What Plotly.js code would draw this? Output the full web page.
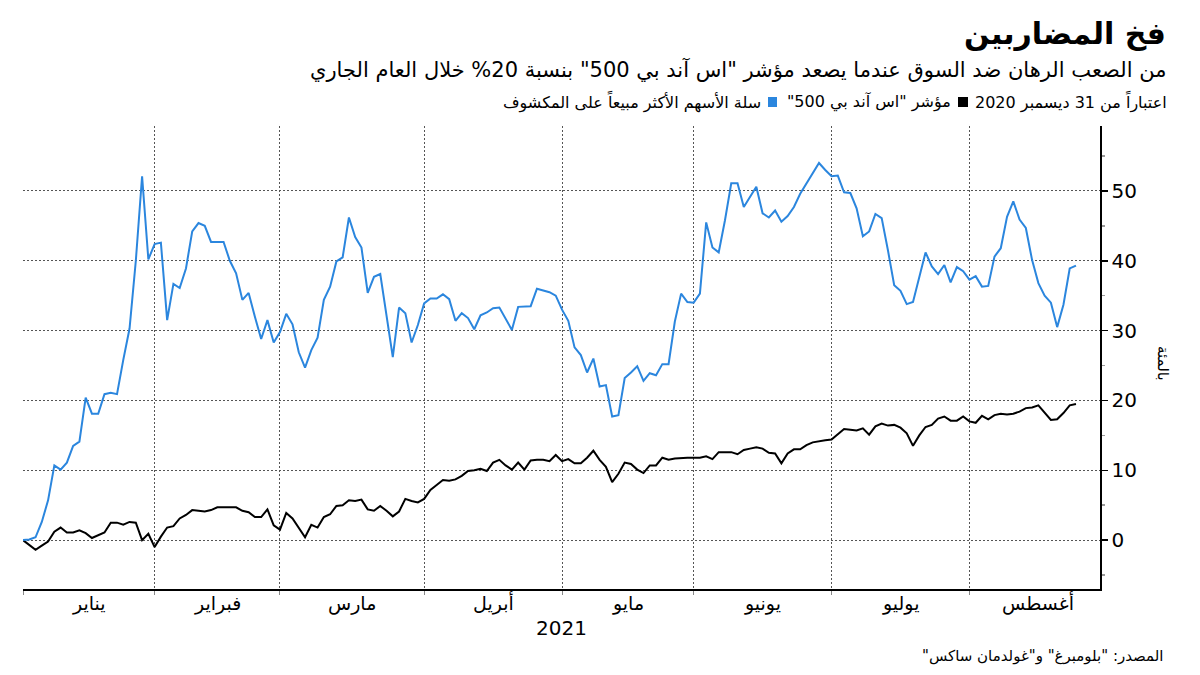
<!DOCTYPE html>
<html>
<head>
<meta charset="utf-8">
<script src="https://cdn.plot.ly/plotly-3.0.1.min.js"></script>
<style>
  body { margin: 0; background: #fff; }
  #chart { width: 1200px; height: 675px; }
</style>
</head>
<body>
<div id="chart"></div>
<script>
// الأداء منذ 31 ديسمبر 2020 بالمئة، نقطة لكل يوم عمل ابتداءً من 1 يناير 2021
const firstDay = '2021-01-01';

const shortBasket = [
    0, 0.1, 0.4, 2.6, 5.7, 10.7, 10.1, 11.1, 13.5, 14.1,
    20.4, 18.1, 18.1, 20.9, 21.1, 20.9, 25.8, 30.3, 40.0, 52.1,
    40.2, 42.4, 42.6, 31.5, 36.7, 36.1, 38.9, 44.2, 45.4, 45.0,
    42.7, 42.7, 42.7, 40.0, 38.2, 34.4, 35.4, 32.0, 28.8, 31.5,
    28.3, 29.8, 32.4, 30.9, 26.9, 24.7, 27.2, 29.0, 34.4, 36.3,
    39.9, 40.5, 46.2, 43.4, 41.9, 35.4, 37.7, 38.1, 32.1, 26.2,
    33.3, 32.5, 28.3, 30.8, 33.9, 34.6, 34.6, 35.2, 34.5, 31.4,
    32.5, 31.8, 30.2, 32.2, 32.6, 33.2, 33.3, 31.7, 30.1, 33.4,
    33.5, 33.5, 36.0, 35.8, 35.5, 35.0, 33.0, 31.4, 27.6, 26.5,
    24.0, 26.0, 22.0, 22.2, 17.7, 17.9, 23.2, 24.0, 24.9, 22.8,
    23.9, 23.6, 25.2, 25.2, 31.3, 35.3, 34.1, 34.0, 35.3, 45.5,
    41.9, 41.2, 45.8, 51.1, 51.1, 47.7, 49.1, 50.6, 46.8, 46.2,
    47.2, 45.6, 46.4, 47.7, 49.6, 51.1, 52.5, 54.0, 53.0, 52.1,
    52.2, 49.8, 49.7, 47.5, 43.5, 44.2, 46.7, 46.1, 41.5, 36.5,
    35.7, 33.8, 34.1, 37.7, 41.2, 39.2, 38.1, 39.4, 36.9, 39.1,
    38.5, 37.3, 37.8, 36.3, 36.4, 40.6, 41.8, 46.3, 48.5, 45.9,
    44.7, 40.1, 36.8, 35.0, 34.0, 30.5, 33.7, 38.9, 39.3
];

const sp500 = [
    0, -0.7, -1.4, -0.8, -0.2, 1.2, 1.8, 1.1, 1.1, 1.4,
    1.0, 0.3, 0.7, 1.1, 2.5, 2.5, 2.2, 2.6, 2.5, 0.0,
    0.9, -1.0, 0.5, 1.8, 2.0, 3.1, 3.6, 4.3, 4.2, 4.1,
    4.3, 4.7, 4.7, 4.7, 4.7, 4.2, 4.0, 3.3, 3.3, 4.4,
    2.1, 1.5, 3.9, 3.1, 1.7, 0.4, 2.2, 1.8, 3.3, 3.7,
    4.9, 5.0, 5.7, 5.6, 5.8, 4.4, 4.2, 4.9, 4.2, 3.4,
    4.1, 5.9, 5.6, 5.4, 5.9, 7.2, 7.9, 8.6, 8.5, 8.7,
    9.2, 9.9, 10.0, 10.2, 9.9, 11.1, 11.5, 10.7, 10.1, 11.1,
    10.1, 11.4, 11.5, 11.5, 11.3, 12.2, 11.3, 11.6, 11.0, 11.0,
    11.8, 12.8, 11.5, 10.5, 8.3, 9.5, 11.1, 10.9, 10.1, 9.6,
    10.7, 10.7, 11.8, 11.5, 11.7, 11.8, 11.8, 11.8, 11.8, 12.0,
    11.6, 12.6, 12.6, 12.6, 12.3, 12.9, 13.1, 13.3, 13.1, 12.5,
    12.4, 11.0, 12.4, 13.0, 13.0, 13.6, 14.0, 14.2, 14.3, 14.4,
    15.1, 15.9, 15.8, 15.7, 16.0, 15.1, 16.3, 16.7, 16.4, 16.5,
    16.1, 15.3, 13.5, 15.0, 16.2, 16.5, 17.4, 17.7, 17.1, 17.1,
    17.7, 17.0, 16.8, 17.8, 17.3, 17.9, 18.1, 18.0, 18.1, 18.4,
    18.9, 19.0, 19.3, 18.3, 17.2, 17.3, 18.2, 19.3, 19.5
];

const monthNames = ['يناير', 'فبراير', 'مارس', 'أبريل', 'مايو', 'يونيو', 'يوليو', 'أغسطس'];
// أول يوم عمل في كل شهر، والأخير حد نهاية أغسطس
const monthStarts = ['2021-01-01', '2021-02-01', '2021-03-01', '2021-04-01',
    '2021-05-03', '2021-06-01', '2021-07-01', '2021-08-02', '2021-09-01'];
const yTicks = [0, 10, 20, 30, 40, 50];
const yMinor = [-5, 5, 15, 25, 35, 45, 55];

const BLUE = '#2b86de';
const FONT = 'DejaVu Sans';
const RLM = '\u200F';

const M = { l: 23, r: 100, t: 126, b: 86 };
const W = 1200, H = 675;
const px = x => (x - M.l) / (W - M.l - M.r);
const py = y => (H - M.b - y) / (H - M.t - M.b);

function weekdays(start, count) {
    const out = [];
    const d = new Date(start + 'T00:00:00Z');
    while (out.length < count) {
        const wd = d.getUTCDay();
        if (wd !== 0 && wd !== 6) out.push(d.toISOString().slice(0, 10));
        d.setUTCDate(d.getUTCDate() + 1);
    }
    return out;
}

const days = weekdays(firstDay, 200);
const dates = days.slice(0, shortBasket.length);

// منتصف كل شهر على محور أيام العمل
function midMonth(k) {
    const a = days.indexOf(monthStarts[k]);
    const b = days.indexOf(monthStarts[k + 1]);
    const m = (a + b) / 2;
    const base = days[Math.floor(m)];
    return m % 1 ? base + ' 12:00' : base;
}

const traces = [
    {
        x: dates, y: sp500, mode: 'lines', type: 'scatter',
        line: { color: '#000', width: 2 }, hoverinfo: 'skip'
    },
    {
        x: dates, y: shortBasket, mode: 'lines', type: 'scatter',
        line: { color: BLUE, width: 2 }, hoverinfo: 'skip'
    }
];

const annotations = [];

monthNames.forEach((name, k) => {
    annotations.push({
        x: midMonth(k), xref: 'x', y: py(603), yref: 'paper',
        text: name, showarrow: false, xanchor: 'center', yanchor: 'middle',
        font: { family: FONT, size: 19, color: '#000' }
    });
});

function label(text, x, y, size, extra) {
    annotations.push(Object.assign({
        x: px(x), xref: 'paper', y: py(y), yref: 'paper',
        text: RLM + text + RLM, showarrow: false, xanchor: 'right', yanchor: 'middle',
        font: { family: FONT, size: size, color: '#000' }
    }, extra || {}));
}

label('فخ المضاربين', 1168, 33, 30, { font: { family: FONT, size: 30, color: '#000', weight: 'bold' } });
label('من الصعب الرهان ضد السوق عندما يصعد مؤشر "اس آند بي 500" بنسبة 20% خلال العام الجاري', 1168, 70, 21);
label('اعتباراً من 31 ديسمبر 2020', 1169, 102, 16);
label('مؤشر "اس آند بي 500"', 953, 102, 16);
label('سلة الأسهم الأكثر مبيعاً على المكشوف', 763, 102, 16);
label('المصدر: "بلومبرغ" و"غولدمان ساكس"', 1165, 656, 15);

annotations.push({
    x: 0.5, xref: 'paper', y: py(628), yref: 'paper', text: '2021', showarrow: false,
    xanchor: 'center', yanchor: 'middle', font: { family: FONT, size: 20, color: '#000' }
});

annotations.push({
    x: px(1163), xref: 'paper', y: py(363), yref: 'paper', text: 'بالمئة', showarrow: false,
    textangle: 90, xanchor: 'center', yanchor: 'middle', font: { family: FONT, size: 15, color: '#000' }
});

const shapes = [
    { type: 'rect', xref: 'paper', yref: 'paper', x0: px(958), x1: px(968), y0: py(107), y1: py(97),
      fillcolor: '#000', line: { width: 0 } },
    { type: 'rect', xref: 'paper', yref: 'paper', x0: px(768), x1: px(777), y0: py(107), y1: py(97),
      fillcolor: BLUE, line: { width: 0 } }
];

const layout = {
    width: W,
    height: H,
    margin: M,
    paper_bgcolor: '#fff',
    plot_bgcolor: '#fff',
    showlegend: false,
    font: { family: FONT, color: '#000' },
    xaxis: {
        type: 'date',
        range: ['2021-01-01', '2021-08-30 20:00'],
        rangebreaks: [{ bounds: ['sat', 'mon'] }],
        tickmode: 'array',
        tickvals: monthStarts.slice(0, 8),
        ticktext: monthStarts.slice(0, 8).map(() => ''),
        ticks: 'outside', ticklen: 4, tickcolor: '#888',
        showgrid: true, gridcolor: '#555', griddash: '2px,2px', gridwidth: 1,
        showline: true, linecolor: '#000', linewidth: 1.5,
        zeroline: false, fixedrange: true
    },
    yaxis: {
        side: 'right',
        range: [-7, 59.3],
        tickmode: 'array',
        tickvals: yTicks,
        ticks: 'outside', ticklen: 6, tickwidth: 1.5, tickcolor: '#000',
        minor: { tickmode: 'array', tickvals: yMinor, ticks: 'outside', ticklen: 3, tickcolor: '#999', showgrid: false },
        showgrid: true, gridcolor: '#555', griddash: '2px,2px', gridwidth: 1,
        showline: true, linecolor: '#000', linewidth: 1.5,
        zeroline: false, fixedrange: true,
        tickfont: { family: FONT, size: 20, color: '#000' }
    },
    annotations: annotations,
    shapes: shapes
};

Plotly.newPlot('chart', traces, layout, { displayModeBar: false, staticPlot: true });
</script>
</body>
</html>
